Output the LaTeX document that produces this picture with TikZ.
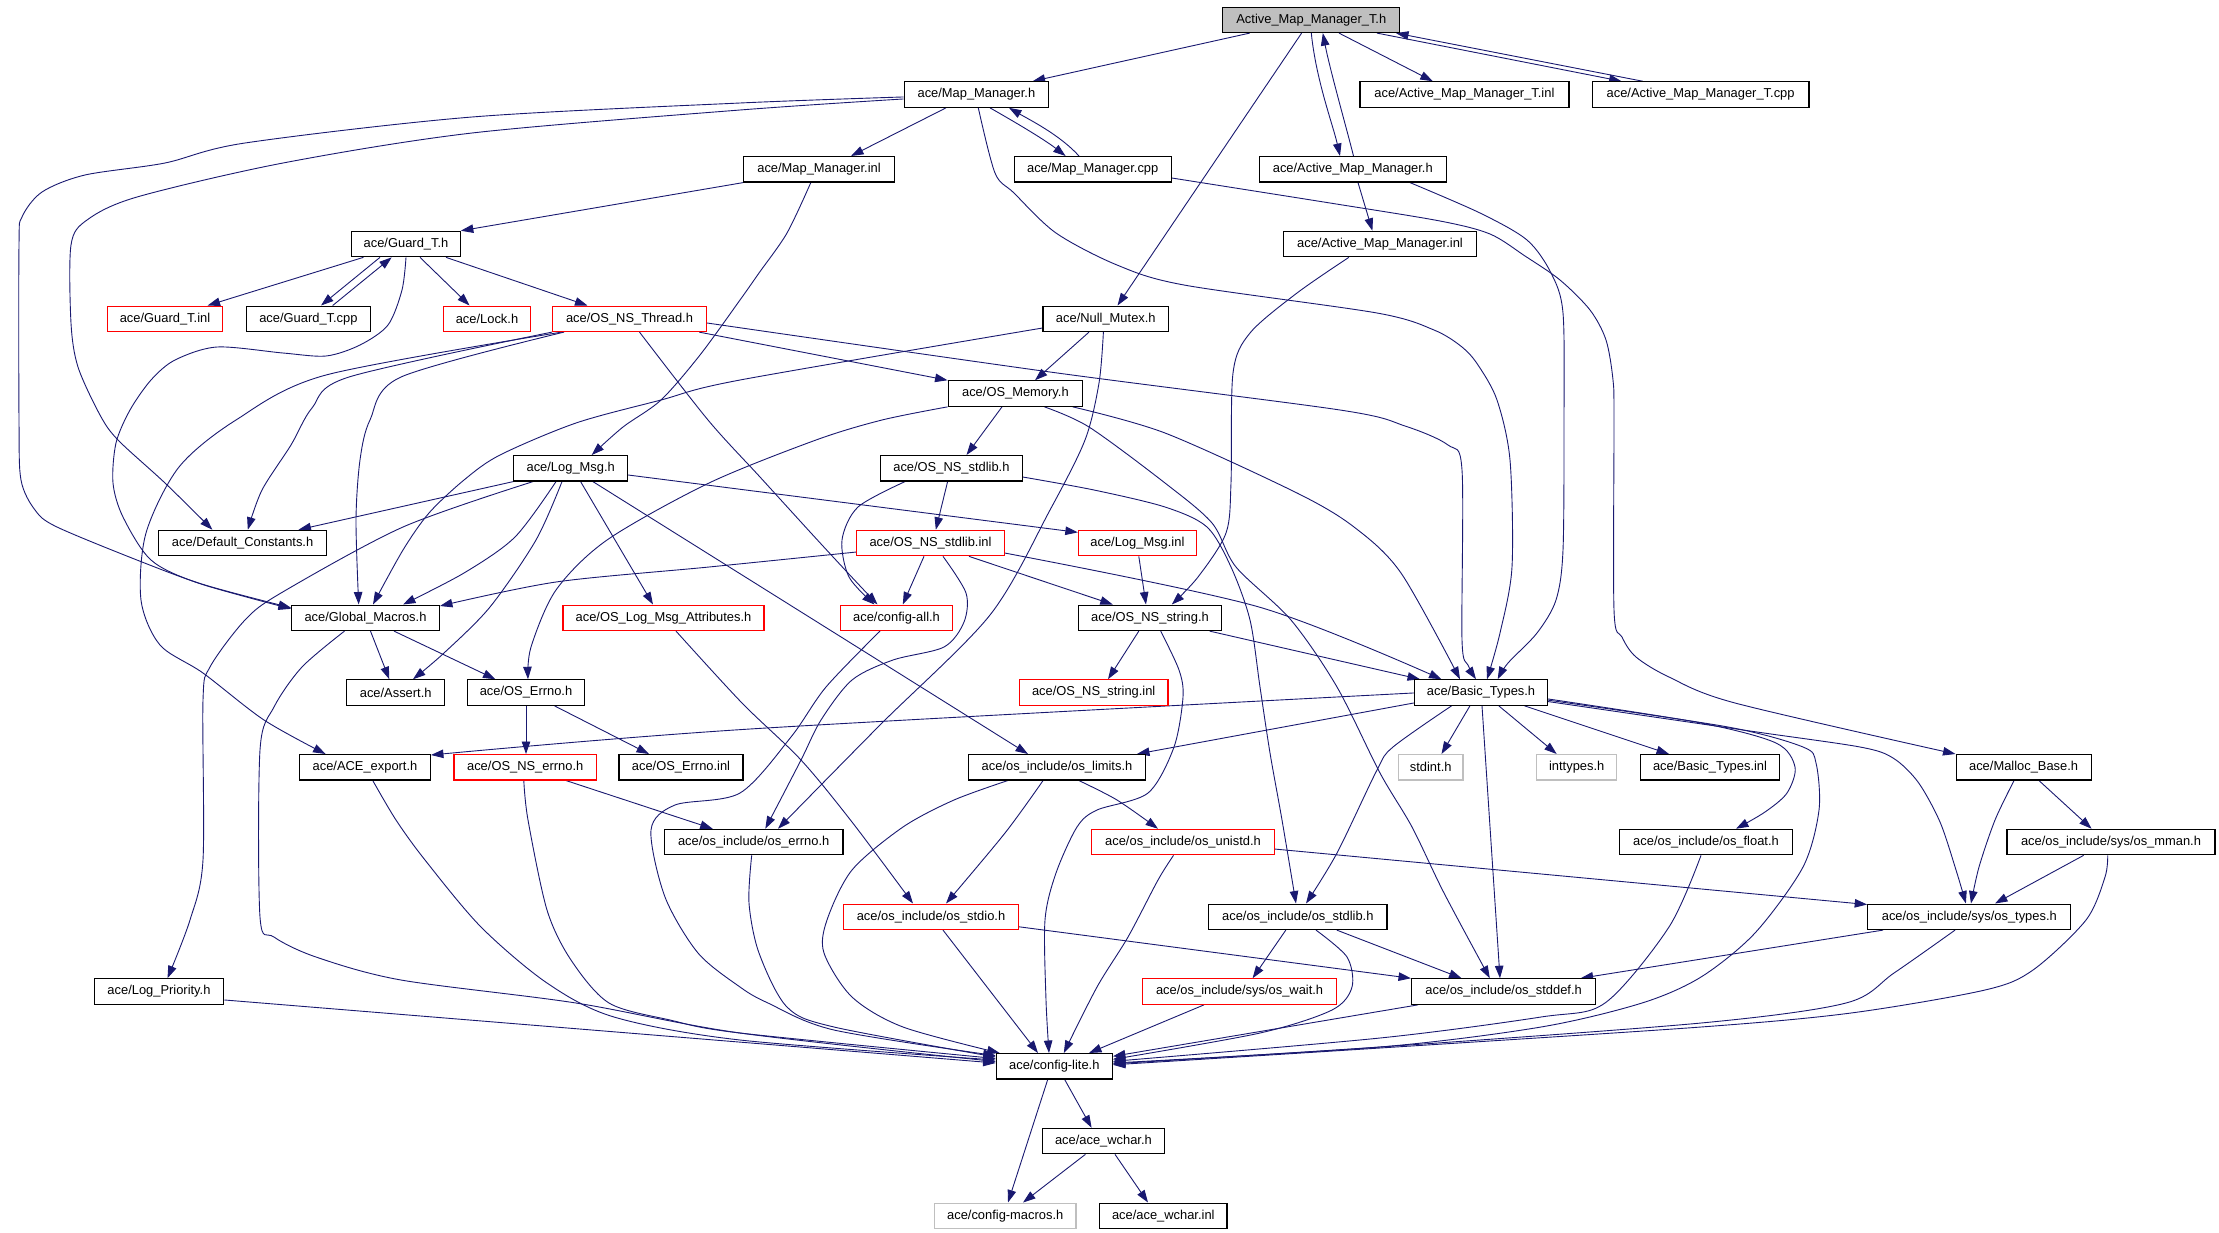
\documentclass[tikz,border=0pt]{standalone}
\usepackage{fontspec}
\setmainfont{Liberation Sans}
\usetikzlibrary{arrows.meta}
\pgfdeclarelayer{bg}
\pgfsetlayers{bg,main}
\definecolor{edgecol}{RGB}{25,25,112}
\definecolor{rootfill}{RGB}{191,191,191}
\definecolor{grayline}{RGB}{191,191,191}
\tikzset{
  box/.style={draw=black, fill=white, line width=1.2pt, rectangle, minimum height=25.4pt, inner sep=0pt, font=\fontsize{12.9}{15}\selectfont, text=black},
  redbox/.style={box, draw=red},
  graybox/.style={box, draw=grayline},
  rootbox/.style={box, fill=rootfill},
  e/.style={draw=edgecol, line width=0.9pt, -{Triangle[length=12.5pt,width=8.5pt]}},
}
\newcommand{\sedge}[1]{\draw[e] plot[smooth,tension=0.5] coordinates {#1};}
\begin{document}
\begin{tikzpicture}[x=1pt,y=-1pt]
\path[use as bounding box] (0,0) rectangle (2219,1232);
% nodes
\node[rootbox, minimum width=177pt] (root) at (1311.3,19.8) {Active\_Map\_Manager\_T.h};
\node[box, minimum width=144.4pt] (mmh) at (976.4,94.55) {ace/Map\_Manager.h};
\node[box, minimum width=209pt] (amtinl) at (1464.4,94.55) {ace/Active\_Map\_Manager\_T.inl};
\node[box, minimum width=216.6pt] (amtcpp) at (1700.6,94.55) {ace/Active\_Map\_Manager\_T.cpp};
\node[box, minimum width=150.5pt] (mminl) at (819,169.3) {ace/Map\_Manager.inl};
\node[box, minimum width=157pt] (mmcpp) at (1092.7,169.3) {ace/Map\_Manager.cpp};
\node[box, minimum width=187.4pt] (amh) at (1352.8,169.3) {ace/Active\_Map\_Manager.h};
\node[box, minimum width=108.5pt] (guardh) at (406,244.05) {ace/Guard\_T.h};
\node[box, minimum width=193.5pt] (aminl) at (1380,244.05) {ace/Active\_Map\_Manager.inl};
\node[redbox, minimum width=115pt] (guardinl) at (165,318.8) {ace/Guard\_T.inl};
\node[box, minimum width=124pt] (guardcpp) at (308.4,318.8) {ace/Guard\_T.cpp};
\node[redbox, minimum width=87pt] (lock) at (487,318.8) {ace/Lock.h};
\node[redbox, minimum width=154pt] (thread) at (629.5,318.8) {ace/OS\_NS\_Thread.h};
\node[box, minimum width=125.5pt] (nullmutex) at (1105.8,318.8) {ace/Null\_Mutex.h};
\node[box, minimum width=134.5pt] (osmem) at (1015.4,393.55) {ace/OS\_Memory.h};
\node[box, minimum width=113.8pt] (logmsg) at (570.7,468.3) {ace/Log\_Msg.h};
\node[box, minimum width=141.6pt] (stdlibh) at (951.4,468.3) {ace/OS\_NS\_stdlib.h};
\node[box, minimum width=168pt] (defconst) at (242.6,543.05) {ace/Default\_Constants.h};
\node[redbox, minimum width=147.7pt] (stdlibinl) at (930.5,543.05) {ace/OS\_NS\_stdlib.inl};
\node[redbox, minimum width=118pt] (logmsginl) at (1137.4,543.05) {ace/Log\_Msg.inl};
\node[box, minimum width=147.7pt] (globalmacros) at (365.5,617.8) {ace/Global\_Macros.h};
\node[redbox, minimum width=201pt] (logattr) at (663.5,617.8) {ace/OS\_Log\_Msg\_Attributes.h};
\node[redbox, minimum width=112pt] (configall) at (896.5,617.8) {ace/config-all.h};
\node[box, minimum width=143.5pt] (stringh) at (1150,617.8) {ace/OS\_NS\_string.h};
\node[box, minimum width=97.7pt] (assert) at (395.7,692.55) {ace/Assert.h};
\node[box, minimum width=116.5pt] (oserrno) at (526,692.55) {ace/OS\_Errno.h};
\node[redbox, minimum width=148.7pt] (stringinl) at (1093.7,692.55) {ace/OS\_NS\_string.inl};
\node[box, minimum width=133pt] (basictypes) at (1481,692.55) {ace/Basic\_Types.h};
\node[box, minimum width=130.7pt] (aceexport) at (365,767.3) {ace/ACE\_export.h};
\node[redbox, minimum width=142.5pt] (nserrno) at (525.2,767.3) {ace/OS\_NS\_errno.h};
\node[box, minimum width=124pt] (errnoinl) at (681,767.3) {ace/OS\_Errno.inl};
\node[box, minimum width=177.5pt] (oslimits) at (1057,767.3) {ace/os\_include/os\_limits.h};
\node[graybox, minimum width=64.7pt] (stdint) at (1430.7,767.3) {stdint.h};
\node[graybox, minimum width=80pt] (inttypes) at (1576.7,767.3) {inttypes.h};
\node[box, minimum width=139pt] (btinl) at (1710,767.3) {ace/Basic\_Types.inl};
\node[box, minimum width=135pt] (mallocbase) at (2023.6,767.3) {ace/Malloc\_Base.h};
\node[box, minimum width=178.4pt] (oserrnoh) at (753.7,842.05) {ace/os\_include/os\_errno.h};
\node[redbox, minimum width=182.6pt] (unistd) at (1183,842.05) {ace/os\_include/os\_unistd.h};
\node[box, minimum width=172.7pt] (osfloat) at (1706,842.05) {ace/os\_include/os\_float.h};
\node[box, minimum width=208pt] (mman) at (2111,842.05) {ace/os\_include/sys/os\_mman.h};
\node[redbox, minimum width=175pt] (stdio) at (931,916.8) {ace/os\_include/os\_stdio.h};
\node[box, minimum width=178.4pt] (osstdlib) at (1297.8,916.8) {ace/os\_include/os\_stdlib.h};
\node[box, minimum width=203pt] (ostypes) at (1969.3,916.8) {ace/os\_include/sys/os\_types.h};
\node[box, minimum width=129.3pt] (logprio) at (159,991.55) {ace/Log\_Priority.h};
\node[redbox, minimum width=194pt] (wait) at (1239.6,991.55) {ace/os\_include/sys/os\_wait.h};
\node[box, minimum width=184pt] (stddef) at (1503.6,991.55) {ace/os\_include/os\_stddef.h};
\node[box, minimum width=116pt] (configlite) at (1054.3,1066.3) {ace/config-lite.h};
\node[box, minimum width=122pt] (acewchar) at (1103.4,1141.05) {ace/ace\_wchar.h};
\node[graybox, minimum width=141.6pt] (configmacros) at (1005.2,1215.8) {ace/config-macros.h};
\node[box, minimum width=127.4pt] (wcharinl) at (1163.3,1215.8) {ace/ace\_wchar.inl};
% edges
\begin{pgfonlayer}{bg}
% root
\draw[e] ([xshift=-61.6pt]root.south) -- ([xshift=56.2pt]mmh.north);
\draw[e] ([xshift=-9.7pt]root.south) -- ([xshift=11.7pt]nullmutex.north);
\draw[e] (root.south) .. controls (1316,80) and (1333,125) .. ([xshift=-12.8pt]amh.north);
\draw[e] ([xshift=0.7pt]amh.north) .. controls (1347,130) and (1330,70) .. ([xshift=11.5pt]root.south);
\draw[e] ([xshift=27.7pt]root.south) -- ([xshift=-31.6pt]amtinl.north);
\draw[e] ([xshift=65.7pt]root.south) -- ([xshift=-79pt]amtcpp.north);
\draw[e] ([xshift=-57.8pt]amtcpp.north) -- ([xshift=84.7pt]root.south);
% Map_Manager.h
\draw[e] ([xshift=-30.4pt]mmh.south) -- ([xshift=32pt]mminl.north);
\draw[e] ([xshift=13.6pt]mmh.south) .. controls (1020,125) and (1045,140) .. ([xshift=-27.1pt]mmcpp.north);
\draw[e] ([xshift=-13.7pt]mmcpp.north) .. controls (1060,135) and (1030,120) .. ([xshift=32.6pt]mmh.south);
\sedge{([yshift=-2.4pt]mmh.west) (740,103) (472,117) (245,143) (165,163) (85,175) (42,192) (22,217) (19,245) (19,420) (21,480) (35,510) (57,527) (142,562) (205,585) ([yshift=10pt]globalmacros.west)}
\sedge{([yshift=-4.4pt]mmh.west) (740,110) (472,133) (283,163) (137,197) (87,220) (71,245) (71,323) (78,367) (100,415) (118,440) (165,483) ([xshift=-30.2pt]defconst.north)}
\sedge{([xshift=1.9pt]mmh.south) (995,173) (1014,193) (1056,233) (1117,265) (1184,285) (1377,313) (1434,330) (1462,347) (1478,365) (1497,400) (1510,460) (1512,567) (1500,633) ([xshift=6pt]basictypes.north)}
% Map_Manager.inl
\draw[e] (mminl.south west) -- (guardh.north east);
\sedge{([xshift=-8.2pt]mminl.south) (787,233) (759,273) (740,300) (700,355) (661,400) (623,427) ([xshift=21pt]logmsg.north)}
% Map_Manager.cpp
\sedge{([yshift=-8.7pt]mmcpp.east) (1330,203) (1440,221) (1490,234) (1525,256) (1560,280) (1590,310) (1606,340) (1613,380) (1614,420) (1614,610) (1622,637) (1636,657) (1669,677) (1735,703) (mallocbase.north west)}
% Active_Map_Manager.h
\draw[e] ([xshift=5.2pt]amh.south) -- ([xshift=-7.6pt]aminl.north);
\sedge{([xshift=57.2pt]amh.south) (1480,213) (1527,240) (1551,273) (1563,313) (1564,420) (1563,550) (1556,600) (1537,633) (1508,663) ([xshift=16.7pt]basictypes.north)}
\sedge{([xshift=-31.2pt]aminl.south) (1297,293) (1250,333) (1233,373) (1231,483) (1226,533) (1198,577) ([xshift=21.8pt]stringh.north)}
% Guard_T.h
\draw[e] ([xshift=-42.6pt]guardh.south) -- ([xshift=42.6pt]guardinl.north);
\draw[e] ([xshift=-26pt]guardh.south) -- ([xshift=12.6pt]guardcpp.north);
\draw[e] ([xshift=24.3pt]guardcpp.north) -- ([xshift=-14.3pt]guardh.south);
\draw[e] ([xshift=14pt]guardh.south) -- ([xshift=-17.4pt]lock.north);
\draw[e] ([xshift=40pt]guardh.south) -- ([xshift=-42pt]thread.north);
\sedge{(guardh.south) (402,290) (388,325) (360,345) (326,356) (283,353) (217,347) (175,360) (151,380) (130,410) (116,443) (113,483) (123,517) (151,560) (198,583) ([yshift=9pt]globalmacros.west)}
% OS_NS_Thread.h
\draw[e] ([xshift=-8pt]thread.south east) -- (osmem.north west);
\sedge{([yshift=-4.2pt]thread.east) (1050,372) (1340,410) (1405,426) (1448,445) (1462,470) (1462,640) (1468,665) ([xshift=-5pt]basictypes.north)}
\sedge{([xshift=-65.5pt]thread.south) (401,377) (370,420) (360,460) (356,520) ([xshift=-6.8pt]globalmacros.north)}
\sedge{([xshift=-77.5pt]thread.south) (349,377) (312,408) (291,445) (262,490) ([xshift=5.2pt]defconst.north)}
\sedge{([xshift=-67.9pt]thread.south) (326,375) (236,420) (179,467) (146,533) (141,600) (160,645) (203,673) (264,720) ([xshift=-39.4pt]aceexport.north)}
\sedge{([xshift=10pt]thread.south) (708,420) (760,477) (811,533) (847,572) ([xshift=-19pt]configall.north)}
% Null_Mutex.h
\draw[e] ([xshift=-16.8pt]nullmutex.south) -- ([xshift=19.6pt]osmem.north);
\sedge{([yshift=-9.2pt]nullmutex.west) (740,380) (661,400) (576,423) (500,455) (464,480) (429,513) (403,550) ([xshift=7.5pt]globalmacros.north)}
\sedge{([xshift=-2.4pt]nullmutex.south) (1099,383) (1085,440) (1050,510) (990,615) (880,725) ([xshift=24.3pt]oserrnoh.north)}
% OS_Memory.h
\draw[e] ([xshift=-13.4pt]osmem.south) -- ([xshift=15.1pt]stdlibh.north);
\sedge{(osmem.south west) (882,420) (816,440) (709,483) (607,540) (556,590) (531,647) ([xshift=2pt]oserrno.north)}
\sedge{([xshift=57.3pt]osmem.south) (1165,433) (1297,493) (1354,527) (1401,573) ([xshift=-21pt]basictypes.north)}
\sedge{([xshift=29pt]osmem.south) (1089,427) (1165,483) (1212,523) (1236,567) (1291,620) (1337,687) (1380,773) (1412,827) (1444,893) ([xshift=-13.8pt]stddef.north)}
% OS_NS_stdlib.h
\draw[e] ([xshift=-3.8pt]stdlibh.south) -- ([xshift=5.3pt]stdlibinl.north);
\sedge{([xshift=-46.4pt]stdlibh.south) (858,507) (842,540) (849,577) ([xshift=-22pt]configall.north)}
\sedge{([yshift=-8.7pt]stdlibh.east) (1094,490) (1165,507) (1207,527) (1231,567) (1250,620) (1260,687) (1270,753) (1282,820) ([xshift=-1.8pt]osstdlib.north)}
% Log_Msg.h
\draw[e] (logmsg.south west) -- ([xshift=55.9pt]defconst.north);
\sedge{([xshift=-14.7pt]logmsg.south) (515,537) (464,573) ([xshift=37.5pt]globalmacros.north)}
\sedge{([xshift=-8.7pt]logmsg.south) (536,540) (490,607) (444,653) ([xshift=17.3pt]assert.north)}
\sedge{([xshift=-37.7pt]logmsg.south) (403,527) (281,593) (245,620) (210,667) (203,700) (203,860) (190,920) ([xshift=8.5pt]logprio.north)}
\draw[e] ([xshift=9.9pt]logmsg.south) -- ([xshift=-10.5pt]logattr.north);
\draw[e] ([xshift=22.2pt]logmsg.south) -- ([xshift=-29pt]oslimits.north);
\draw[e] ([yshift=-6.7pt]logmsg.east) -- ([yshift=-2.6pt]logmsginl.north west);
% OS_NS_stdlib.inl
\sedge{([yshift=-9pt]stdlibinl.west) (709,567) (556,582) ([yshift=-1.5pt]globalmacros.north east)}
\draw[e] ([xshift=-6.5pt]stdlibinl.south) -- ([xshift=6.3pt]configall.north);
\sedge{([xshift=12.5pt]stdlibinl.south) (966,593) (964,622) (944,647) (893,660) (852,680) (821,720) (801,760) ([xshift=11.6pt]oserrnoh.north)}
\draw[e] ([xshift=38.5pt]stdlibinl.south) -- ([xshift=-37.2pt]stringh.north);
\sedge{([yshift=-10pt]stdlibinl.east) (1259,607) ([xshift=-39.5pt]basictypes.north)}
\draw[e] ([xshift=1.4pt]logmsginl.south) -- ([xshift=-4pt]stringh.north);
% Global_Macros.h
\draw[e] ([xshift=5pt]globalmacros.south) -- ([xshift=-6.4pt]assert.north);
\draw[e] ([xshift=28.5pt]globalmacros.south) -- ([xshift=-30.5pt]oserrno.north);
\sedge{([xshift=-21pt]globalmacros.south) (302,667) (274,707) (260,750) (260,917) (274,937) (316,957) (401,980) (576,1003) (740,1033) ([yshift=4.8pt]configlite.west)}
% left side into config-lite
\draw[e] ([yshift=-8.4pt]logprio.east) -- ([yshift=3.3pt]configlite.west);
\sedge{([xshift=7.8pt]aceexport.south) (396,820) (425,860) (481,927) (547,983) (614,1017) (740,1040) ([yshift=6.3pt]configlite.west)}
\sedge{([xshift=-1.4pt]nserrno.south) (528,820) (547,910) (571,960) (609,1003) (670,1020) (740,1033) ([yshift=7.8pt]configlite.west)}
\draw[e] ([xshift=41pt]nserrno.south) -- ([xshift=-41pt]oserrnoh.north);
\sedge{([xshift=-2pt]oserrnoh.south) (749,903) (759,953) (787,1007) (834,1027) ([yshift=9.3pt]configlite.west)}
\sedge{([xshift=-16.5pt]configall.south) (826,687) (791,737) (740,793) (675,805) (651,830) (665,897) (698,953) (740,987) (768,1003) (834,1030) ([yshift=10.7pt]configlite.west)}
% OS_Errno.h
\draw[e] (oserrno.south) -- ([xshift=0.8pt]nserrno.north);
\draw[e] ([xshift=28.5pt]oserrno.south) -- ([xshift=-32pt]errnoinl.north);
% OS_Log_Msg_Attributes.h
\sedge{([xshift=12.5pt]logattr.south) (742,703) (801,760) (852,822) ([xshift=-18pt]stdio.north)}
% OS_NS_string.h
\draw[e] ([xshift=-11.2pt]stringh.south) -- ([xshift=14.3pt]stringinl.north);
\draw[e] ([xshift=59.6pt]stringh.south) -- ([xshift=-61pt]basictypes.north);
\sedge{([xshift=10.7pt]stringh.south) (1179,670) (1183,697) (1174,747) (1148,793) (1097,810) (1077,827) (1056,873) (1045,920) (1046,1000) ([xshift=-5.3pt]configlite.north)}
% Basic_Types.h
\sedge{([yshift=-0.4pt]basictypes.west) (750,729) ([yshift=-1pt]aceexport.north east)}
\draw[e] ([yshift=-10.4pt]basictypes.west) -- ([xshift=80pt]oslimits.north);
\sedge{([xshift=-29.5pt]basictypes.south) (1393,747) (1377,770) (1337,853) ([xshift=8.2pt]osstdlib.north)}
\draw[e] ([xshift=-11.1pt]basictypes.south) -- ([xshift=10.8pt]stdint.north);
\draw[e] ([xshift=17.8pt]basictypes.south) -- ([xshift=-20pt]inttypes.north);
\sedge{([xshift=43.5pt]basictypes.south) (1567,720) ([xshift=-41pt]btinl.north)}
\sedge{([yshift=-6.4pt]basictypes.east) (1701,723) (1776,743) (1795,767) (1787,793) (1765,812) ([xshift=30pt]osfloat.north)}
\sedge{([yshift=-7.6pt]basictypes.east) (1728,727) (1803,747) (1816,763) (1819,810) (1803,867) (1755,933) (1701,977) (1642,1003) (1541,1027) (1380,1047) ([yshift=3.3pt]configlite.east)}
\sedge{([yshift=-9pt]basictypes.east) (1750,731) (1860,747) (1893,758) (1918,782) (1940,822) (1956,870) ([xshift=-3.4pt]ostypes.north)}
\draw[e] ([xshift=1pt]basictypes.south) -- ([xshift=-3.6pt]stddef.north);
% Malloc_Base.h
\sedge{([xshift=-9.6pt]mallocbase.south) (1995,820) (1979,867) ([xshift=1.7pt]ostypes.north)}
\draw[e] ([xshift=15.4pt]mallocbase.south) -- ([xshift=-19.4pt]mman.north);
% os_mman
\draw[e] ([xshift=-27.4pt]mman.south) -- ([xshift=25.7pt]ostypes.north);
\sedge{([xshift=-3.3pt]mman.south) (2105,877) (2086,920) (2033,970) (1985,990) (1851,1013) (1701,1027) (1380,1048) ([yshift=1.5pt]configlite.east)}
% os_types
\draw[e] ([xshift=-86.3pt]ostypes.south) -- ([xshift=77pt]stddef.north);
\sedge{([xshift=-14.3pt]ostypes.south) (1894,973) (1846,1003) (1701,1023) (1380,1047) ([yshift=2.5pt]configlite.east)}
% os_float
\sedge{([xshift=-5pt]osfloat.south) (1669,927) (1605,1003) (1541,1017) (1380,1038) ([yshift=5pt]configlite.east)}
% os_unistd
\draw[e] ([yshift=-7pt]unistd.east) -- ([yshift=-1pt]ostypes.north west);
\sedge{([xshift=-9.5pt]unistd.south) (1158,880) (1128,937) (1097,987) ([xshift=9.5pt]configlite.north)}
% os_limits
\sedge{([xshift=22pt]oslimits.south) (1117,800) ([xshift=-25pt]unistd.north)}
\sedge{([xshift=-14pt]oslimits.south) (1005,833) ([xshift=15pt]stdio.north)}
\sedge{([xshift=-49.4pt]oslimits.south) (954,800) (903,827) (852,870) (827,920) (824,953) (852,997) (903,1027) ([xshift=4pt]configlite.north west)}
% os_stdio
\draw[e] ([xshift=12pt]stdio.south) -- ([xshift=-16.3pt]configlite.north);
\draw[e] ([yshift=-10pt]stdio.east) -- (stddef.north west);
% os_stdlib
\draw[e] ([xshift=-12pt]osstdlib.south) -- ([xshift=13pt]wait.north);
\draw[e] ([xshift=39pt]osstdlib.south) -- ([xshift=-42pt]stddef.north);
\sedge{([xshift=18.2pt]osstdlib.south) (1347,957) (1352,987) (1332,1010) (1260,1033) ([yshift=7pt]configlite.east)}
% os_wait, os_stddef
\draw[e] ([xshift=-35.6pt]wait.south) -- ([xshift=34.7pt]configlite.north);
\draw[e] ([xshift=-85.6pt]stddef.south) -- ([yshift=10pt]configlite.east);
% config-lite and below
\draw[e] ([xshift=10.4pt]configlite.south) -- ([xshift=-11.8pt]acewchar.north);
\draw[e] ([xshift=-6.6pt]configlite.south) -- ([xshift=2.8pt]configmacros.north);
\draw[e] ([xshift=-18pt]acewchar.south) -- ([xshift=17.8pt]configmacros.north);
\draw[e] ([xshift=11.6pt]acewchar.south) -- ([xshift=-15.3pt]wcharinl.north);
\end{pgfonlayer}
\end{tikzpicture}
\end{document}
